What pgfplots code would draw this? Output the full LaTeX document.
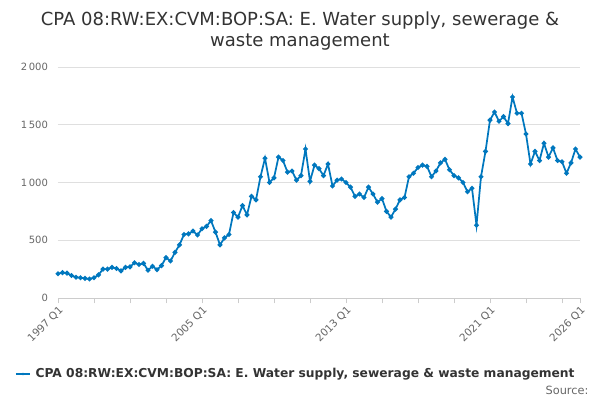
\documentclass[border=0pt]{standalone}
\usepackage{pgfplots}
\pgfplotsset{compat=1.18}
\usepackage{pgfplotstable}
\usepackage{fontspec}
\setmainfont{DejaVu Sans}
\definecolor{ln}{RGB}{0,119,190}
\definecolor{tx}{RGB}{51,51,51}
\definecolor{gr}{RGB}{102,102,102}
\pgfplotstableread{
v
210
220
215
195
180
175
170
165
175
200
250
250
265
255
235
265
270
305
290
300
240
275
245
280
350
320
395
460
550
555
580
545
600
620
670
570
460
520
550
740
700
800
720
880
850
1050
1210
1000
1040
1220
1190
1090
1100
1020
1060
1290
1010
1150
1120
1060
1160
970
1020
1030
1000
960
880
900
870
960
900
830
860
750
700
770
850
870
1050
1080
1130
1150
1140
1050
1100
1170
1200
1110
1060
1040
1000
920
950
630
1050
1270
1540
1610
1530
1570
1510
1740
1600
1600
1420
1160
1270
1190
1340
1220
1300
1190
1180
1080
1170
1290
1220
}\data
\begin{document}
\begin{tikzpicture}[x=1pt,y=1pt]
\path[use as bounding box] (-43.5,-76.5) rectangle (406.5,223.5);
\begin{axis}[at={(0,0)},anchor=south west,scale only axis,
 width=391.5pt,height=173.25pt,
 xmin=0,xmax=116,ymin=0,ymax=2000,
 axis y line*=left, axis x line*=bottom,
 y axis line style={draw=none},
 x axis line style={draw=gray!40},
 ytick={0,500,1000,1500,2000},
 yticklabels={0,500,1\,000,1\,500,2\,000},
 ymajorgrids, grid style={gray!25},
 major y tick style={draw=none},
 xtick={0,32,64,96,116},
 xticklabels={1997 Q1,2005 Q1,2013 Q1,2021 Q1,2026 Q1},
 minor xtick={8,16,24,40,48,56,72,80,88,104,112},
 x tick style={draw=gray!40},
 tick align=outside, major tick length=4pt, minor tick length=4pt,
 xticklabel style={rotate=45,anchor=north east,font=\fontsize{7.8}{9}\selectfont,text=gr,inner sep=1pt},
 yticklabel style={font=\fontsize{7.5}{9}\selectfont,text=gr},
 /pgf/number format/assume math mode=true,
 clip=false]
\addplot[ln,line width=1.3pt,mark=*,mark size=1.1pt] table[x expr=\coordindex,y=v]{\data};
\end{axis}
\node[text=tx,font=\fontsize{13.5}{16}\selectfont,align=center] at (181.5,200) {CPA 08:RW:EX:CVM:BOP:SA: E. Water supply, sewerage \&\\waste management};
\draw[ln,line width=1.3pt] (-31.5,-57) -- (-21,-57);
\fill[ln] (-26.25,-57) circle (1.1pt);
\node[anchor=west,text=tx,font=\bfseries\fontsize{9.2}{11}\selectfont,inner sep=0pt] at (-17,-57) {CPA 08:RW:EX:CVM:BOP:SA: E. Water supply, sewerage \& waste management};
\node[anchor=east,text=gr,font=\fontsize{8.5}{10}\selectfont,inner sep=0pt] at (398,-69) {Source:};
\end{tikzpicture}
\end{document}
